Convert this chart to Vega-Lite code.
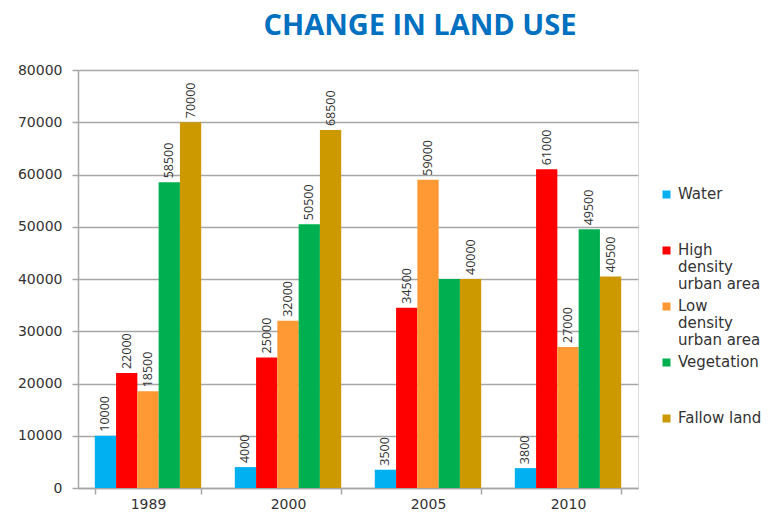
{
  "$schema": "https://vega.github.io/schema/vega-lite/v6.json",
  "width": 560,
  "height": 418,
  "autosize": {"type": "none"},
  "padding": {"left": 78, "top": 70, "right": 130, "bottom": 28},
  "background": "white",
  "title": {
    "text": "CHANGE IN LAND USE",
    "font": "Open Sans",
    "fontSize": 29,
    "fontWeight": "bold",
    "color": "#0070c0",
    "anchor": "middle",
    "dx": 62,
    "offset": 22
  },
  "data": {
    "values": [
      {"year": "1989", "use": "Water", "area": 10000, "label": "10000"},
      {"year": "1989", "use": "High density urban area", "area": 22000, "label": "22000"},
      {"year": "1989", "use": "Low density urban area", "area": 18500, "label": "18500"},
      {"year": "1989", "use": "Vegetation", "area": 58500, "label": "58500"},
      {"year": "1989", "use": "Fallow land", "area": 70000, "label": "70000"},
      {"year": "2000", "use": "Water", "area": 4000, "label": "4000"},
      {"year": "2000", "use": "High density urban area", "area": 25000, "label": "25000"},
      {"year": "2000", "use": "Low density urban area", "area": 32000, "label": "32000"},
      {"year": "2000", "use": "Vegetation", "area": 50500, "label": "50500"},
      {"year": "2000", "use": "Fallow land", "area": 68500, "label": "68500"},
      {"year": "2005", "use": "Water", "area": 3500, "label": "3500"},
      {"year": "2005", "use": "High density urban area", "area": 34500, "label": "34500"},
      {"year": "2005", "use": "Low density urban area", "area": 59000, "label": "59000"},
      {"year": "2005", "use": "Vegetation", "area": 40000, "label": ""},
      {"year": "2005", "use": "Fallow land", "area": 40000, "label": "40000"},
      {"year": "2010", "use": "Water", "area": 3800, "label": "3800"},
      {"year": "2010", "use": "High density urban area", "area": 61000, "label": "61000"},
      {"year": "2010", "use": "Low density urban area", "area": 27000, "label": "27000"},
      {"year": "2010", "use": "Vegetation", "area": 49500, "label": "49500"},
      {"year": "2010", "use": "Fallow land", "area": 40500, "label": "40500"}
    ]
  },
  "encoding": {
    "x": {
      "field": "year",
      "type": "nominal",
      "scale": {"paddingInner": 0.24, "paddingOuter": 0.12},
      "axis": {
        "title": null,
        "labelAngle": 0,
        "labelFont": "DejaVu Sans",
        "labelFontSize": 14,
        "labelColor": "#333333",
        "labelPadding": 3,
        "tickBand": "extent",
        "tickColor": "#a6a6a6",
        "tickSize": 6,
        "tickWidth": 1.5,
        "domainColor": "#a6a6a6",
        "domainWidth": 1.5,
        "grid": false
      }
    },
    "xOffset": {
      "field": "use",
      "type": "nominal",
      "sort": ["Water", "High density urban area", "Low density urban area", "Vegetation", "Fallow land"],
      "scale": {"paddingInner": 0, "paddingOuter": 0}
    },
    "y": {
      "field": "area",
      "type": "quantitative",
      "scale": {"domain": [0, 80000], "nice": false},
      "axis": {
        "title": null,
        "values": [0, 10000, 20000, 30000, 40000, 50000, 60000, 70000, 80000],
        "format": "d",
        "labelFont": "DejaVu Sans",
        "labelFontSize": 14,
        "labelColor": "#333333",
        "labelPadding": 10,
        "tickColor": "#a6a6a6",
        "tickSize": 6,
        "tickWidth": 1.5,
        "domainColor": "#a6a6a6",
        "domainWidth": 1.5,
        "grid": true,
        "gridColor": "#a6a6a6",
        "gridWidth": 1.5
      }
    }
  },
  "layer": [
    {
      "mark": {"type": "bar"},
      "encoding": {
        "color": {
          "field": "use",
          "type": "nominal",
          "sort": ["Water", "High density urban area", "Low density urban area", "Vegetation", "Fallow land"],
          "scale": {
            "domain": ["Water", "High density urban area", "Low density urban area", "Vegetation", "Fallow land"],
            "range": ["#00b0f0", "#ff0000", "#ff9933", "#00b050", "#cc9900"]
          },
          "legend": {
            "title": null,
            "orient": "none",
            "legendX": 581,
            "legendY": 117,
            "symbolType": "square",
            "symbolSize": 64,
            "symbolStrokeWidth": 0,
            "labelFont": "DejaVu Sans",
            "labelFontSize": 15,
            "labelColor": "#333333",
            "labelOffset": 4,
            "labelLimit": 200,
            "labelBaseline": "top",
            "rowPadding": 6,
            "encode": {"labels": {"update": {"dy": {"value": -8}}}},
            "labelExpr": "datum.label == 'High density urban area' ? ['High', 'density', 'urban area'] : datum.label == 'Low density urban area' ? ['Low', 'density', 'urban area'] : [datum.label, ' ', ' ']"
          }
        }
      }
    },
    {
      "mark": {
        "type": "text",
        "angle": 270,
        "align": "left",
        "baseline": "middle",
        "dx": 4,
        "font": "Open Sans",
        "fontSize": 12.5,
        "color": "#333333"
      },
      "encoding": {
        "text": {"field": "label"}
      }
    }
  ]
}
